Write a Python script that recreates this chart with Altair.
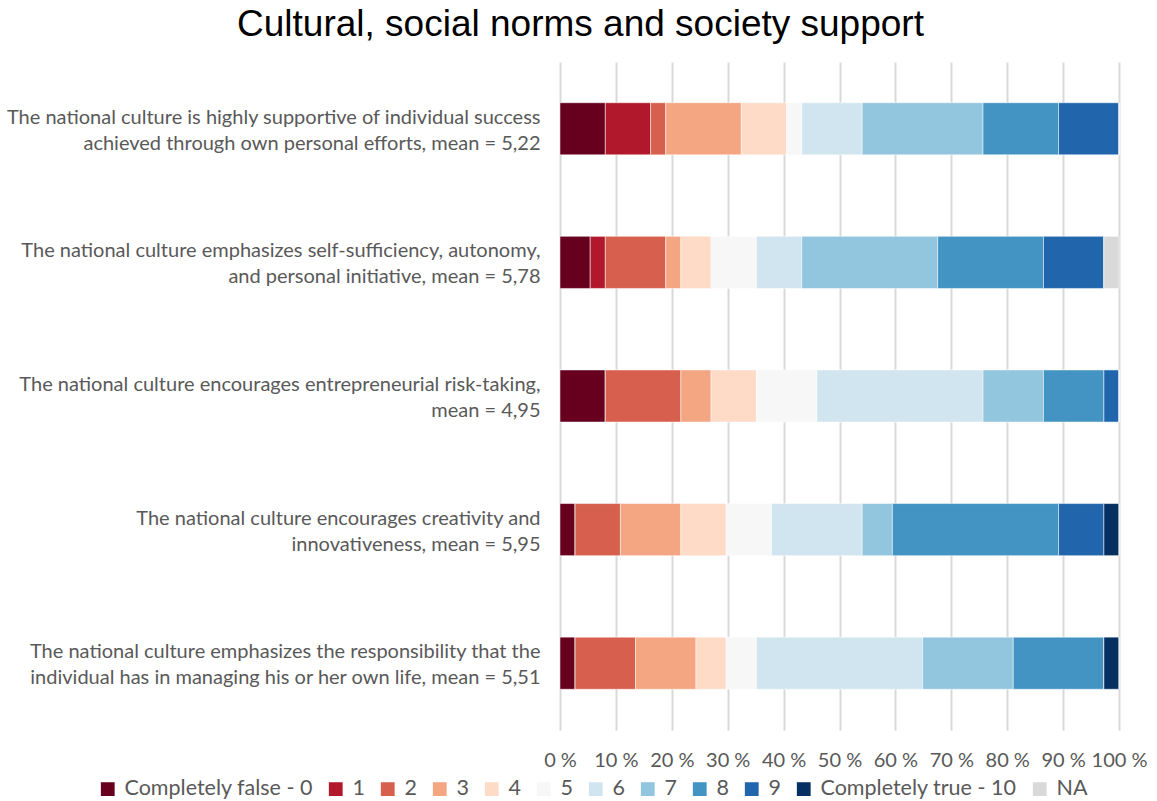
import altair as alt
import pandas as pd

statements = [
    "The national culture is highly supportive of individual success\nachieved through own personal efforts, mean = 5,22",
    "The national culture emphasizes self-sufficiency, autonomy,\nand personal initiative, mean = 5,78",
    "The national culture encourages entrepreneurial risk-taking,\nmean = 4,95",
    "The national culture encourages creativity and\ninnovativeness, mean = 5,95",
    "The national culture emphasizes the responsibility that the\nindividual has in managing his or her own life, mean = 5,51",
]
categories = ["Completely false - 0", "1", "2", "3", "4", "5", "6", "7", "8", "9",
              "Completely true - 10", "NA"]
colors = ["#67001f", "#b2182b", "#d6604d", "#f4a582", "#fddbc7", "#f7f7f7",
          "#d1e5f0", "#92c5de", "#4393c3", "#2166ac", "#053061", "#d9d9d9"]
# counts of respondents per answer (n = 37)
counts = [
    [3, 3, 1, 5, 3, 1, 4, 8, 5, 4, 0, 0],
    [2, 1, 4, 1, 2, 3, 3, 9, 7, 4, 0, 1],
    [3, 0, 5, 2, 3, 4, 11, 4, 4, 1, 0, 0],
    [1, 0, 3, 4, 3, 3, 6, 2, 11, 3, 1, 0],
    [1, 0, 4, 4, 2, 2, 11, 6, 6, 0, 1, 0],
]
tick_values = [0, 0.1, 0.2, 0.3, 0.4, 0.5, 0.6, 0.7, 0.8, 0.9, 1.0]

rows = []
for s, cs in zip(statements, counts):
    for i, (c, v) in enumerate(zip(categories, cs)):
        rows.append({"statement": s, "answer": c, "order": i, "count": v})
df = pd.DataFrame(rows)

FONT = "Lato"

chart = alt.Chart(df).mark_bar(stroke="white", strokeWidth=0.5).encode(
    y=alt.Y("statement:N", sort=statements, title=None,
            scale=alt.Scale(paddingInner=0.61, paddingOuter=0.305),
            axis=alt.Axis(labelExpr="split(datum.label, '\\n')", labelFontSize=20,
                          labelColor="#595959", labelFont=FONT, domain=False,
                          ticks=False, labelPadding=20, labelLineHeight=26,
                          labelOffset=-11, labelLimit=600)),
    x=alt.X("count:Q", stack="normalize", title=None,
            scale=alt.Scale(domain=[0, 1], nice=False),
            axis=alt.Axis(values=tick_values,
                          labelExpr="format(datum.value*100, 'd') + ' %'",
                          labelFontSize=20, labelColor="#595959", labelFont=FONT,
                          domain=False, ticks=False, labelPadding=20,
                          labelFlush=False,
                          grid=True, gridColor="#d9d9d9", gridWidth=2,
                          labelOverlap=False)),
    color=alt.Color("answer:N", sort=categories,
                    scale=alt.Scale(domain=categories, range=colors),
                    legend=alt.Legend(title=None, orient="none", legendX=-463, legendY=716,
                                      direction="horizontal", columns=12,
                                      symbolType="square", symbolSize=190,
                                      symbolStrokeWidth=0, labelFontSize=21.5,
                                      labelColor="#595959", labelFont=FONT,
                                      labelLimit=300,
                                      columnPadding=12, labelOffset=6)),
    order=alt.Order("order:Q"),
).properties(
    width=559, height=668,
    title=alt.TitleParams("Cultural, social norms and society support", fontSize=37,
                          font="Liberation Sans", fontWeight="normal", color="black",
                          anchor="middle", dx=-259, offset=18),
    autosize=alt.AutoSizeParams(type="none"),
    padding={"left": 560, "top": 62, "right": 38, "bottom": 71},
).configure_view(stroke=None)

chart.save("out.html", embed_options={"renderer": "svg", "actions": False})
